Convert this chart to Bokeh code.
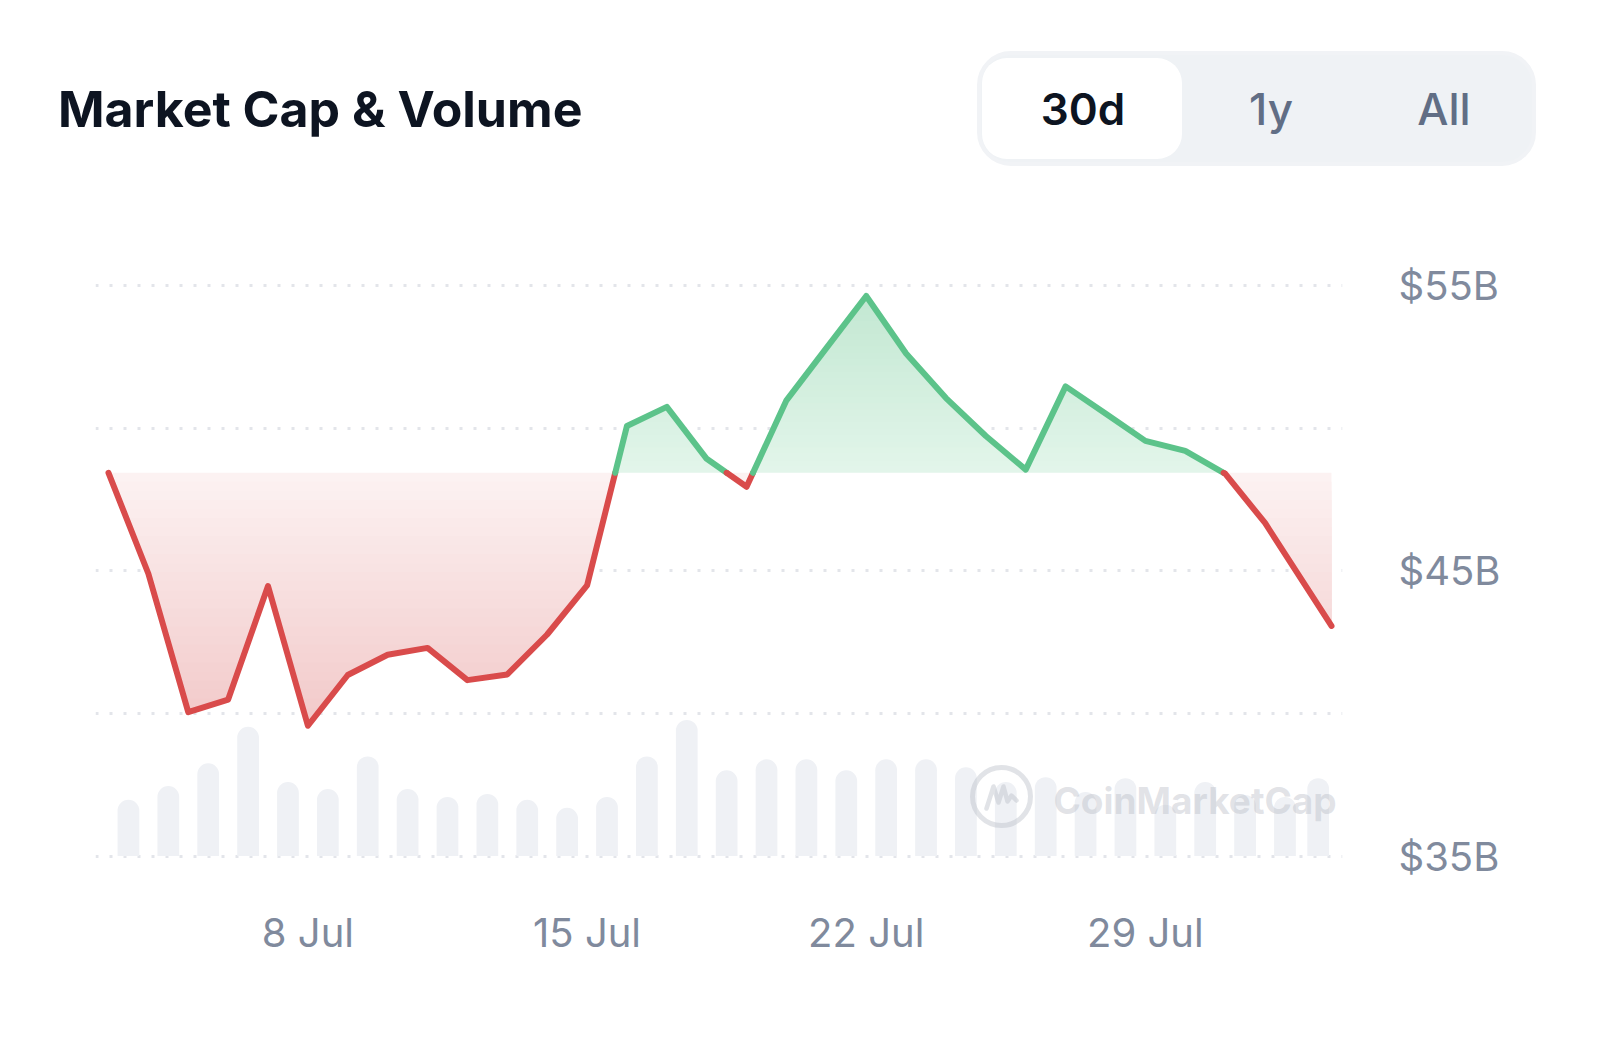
import numpy as np
import pandas as pd
from bokeh.plotting import figure
from bokeh.models import Range1d, FixedTicker, DatetimeTickFormatter, PrintfTickFormatter, Div
from bokeh.layouts import column
from bokeh.core.properties import value
from bokeh.embed import file_html
from bokeh.resources import INLINE

# ---------------- data ----------------
dates = ["2024-07-03 00:00", "2024-07-04 00:00", "2024-07-05 00:00", "2024-07-06 00:00",
         "2024-07-07 00:00", "2024-07-08 00:00", "2024-07-09 00:00", "2024-07-10 00:00",
         "2024-07-11 00:00", "2024-07-12 00:00", "2024-07-13 00:00", "2024-07-14 00:00",
         "2024-07-15 00:00", "2024-07-16 00:00", "2024-07-17 00:00", "2024-07-18 00:00",
         "2024-07-19 00:00", "2024-07-20 00:00", "2024-07-21 00:00", "2024-07-22 00:00",
         "2024-07-23 00:00", "2024-07-24 00:00", "2024-07-25 00:00", "2024-07-26 00:00",
         "2024-07-27 00:00", "2024-07-28 00:00", "2024-07-29 00:00", "2024-07-30 00:00",
         "2024-07-31 00:00", "2024-08-01 00:00", "2024-08-02 16:00"]
market_cap_b = [48.44, 44.90, 40.05, 40.49, 44.47, 39.57, 41.35, 42.06, 42.30, 41.17,
                41.37, 42.77, 44.49, 50.08, 50.75, 48.93, 47.95, 50.98, 52.81, 54.64,
                52.62, 51.06, 49.73, 48.55, 51.47, 50.52, 49.56, 49.21, 48.41, 46.68,
                43.07]
volume_dates = ["2024-07-03 12:00", "2024-07-04 12:00", "2024-07-05 12:00", "2024-07-06 12:00",
                "2024-07-07 12:00", "2024-07-08 12:00", "2024-07-09 12:00", "2024-07-10 12:00",
                "2024-07-11 12:00", "2024-07-12 12:00", "2024-07-13 12:00", "2024-07-14 12:00",
                "2024-07-15 12:00", "2024-07-16 12:00", "2024-07-17 12:00", "2024-07-18 12:00",
                "2024-07-19 12:00", "2024-07-20 12:00", "2024-07-21 12:00", "2024-07-22 12:00",
                "2024-07-23 12:00", "2024-07-24 12:00", "2024-07-25 12:00", "2024-07-26 12:00",
                "2024-07-27 12:00", "2024-07-28 12:00", "2024-07-29 12:00", "2024-07-30 12:00",
                "2024-07-31 12:00", "2024-08-01 12:00", "2024-08-02 08:00"]
volume_b = [0.57, 0.71, 0.94, 1.31, 0.75, 0.68, 1.01, 0.68, 0.60, 0.63,
            0.57, 0.49, 0.60, 1.01, 1.38, 0.87, 0.98, 0.98, 0.87, 0.98,
            0.98, 0.90, 0.75, 0.80, 0.65, 0.79, 0.52, 0.75, 0.62, 0.60,
            0.79]
price_ticks_b = [35, 45, 55]
grid_levels_b = [35, 40, 45, 50, 55]
date_ticks = ["2024-07-08 00:00", "2024-07-15 00:00", "2024-07-22 00:00", "2024-07-29 00:00"]
title_text = "Market Cap &amp; Volume"
range_buttons = ["30d", "1y", "All"]
watermark_text = "CoinMarketCap"

# ---------------- layout constants (page pixels) ----------------
W = 1581
HEADER_H = 190
CHART_H = 830
CHART_TOP = HEADER_H
FRAME_L, FRAME_R = 95, 1342
FRAME_T, FRAME_B = 220, 880
X0_PX = 108.0                        # page x of first date
PX_PER_DAY = 39.88
Y_TOP_TICK_PX = 285.2                # page y of top tick
PX_PER_B = 28.52
VOL_PX_PER_UNIT = 98.7
DAY_MS = 86400000.0
FONT = "Inter"

x_dt = pd.to_datetime(dates, format="%Y-%m-%d %H:%M")
x_ms = x_dt.asi8 / 1e6
vals = np.array(market_cap_b, dtype=float)
vol_x = pd.to_datetime(volume_dates, format="%Y-%m-%d %H:%M")
tick_ms = list(pd.to_datetime(date_ticks, format="%Y-%m-%d %H:%M").asi8 / 1e6)
top_tick = max(price_ticks_b)
bottom_tick = min(price_ticks_b)


def px_to_x(px):
    return x_ms[0] + (px - X0_PX) / PX_PER_DAY * DAY_MS


def py_to_y(py):
    return top_tick - (py - Y_TOP_TICK_PX) / PX_PER_B


def mix(c1, c2, f):
    a = np.array([int(c1[i:i + 2], 16) for i in (1, 3, 5)], dtype=float)
    b = np.array([int(c2[i:i + 2], 16) for i in (1, 3, 5)], dtype=float)
    c = a + (b - a) * f
    return "#%02x%02x%02x" % tuple(int(round(v)) for v in c)


# ---------------- header (HTML) ----------------
btn_specs = [(1083, range_buttons[0], "#0d1421", 600),
             (1271, range_buttons[1], "#616e85", 500),
             (1444, range_buttons[2], "#616e85", 500)]
btn_html = "".join(
    f'<div style="position:absolute;left:{cx - 90}px;top:87px;width:180px;text-align:center;'
    f'font-size:44px;line-height:44px;font-weight:{fw};color:{col};white-space:nowrap;">{t}</div>'
    for cx, t, col, fw in btn_specs)
header_html = (
    f'<div style="position:relative;width:{W}px;height:{HEADER_H}px;font-family:Inter,sans-serif;'
    f'background:#ffffff;overflow:hidden;">'
    f'<div style="position:absolute;left:58px;top:84px;font-size:50px;line-height:50px;'
    f'font-weight:700;color:#0d1421;white-space:nowrap;">{title_text}</div>'
    f'<div style="position:absolute;left:977px;top:51px;width:559px;height:115px;'
    f'border-radius:34px;background:#eff2f5;box-sizing:border-box;border:4px solid #f1f3f6;"></div>'
    f'<div style="position:absolute;left:982px;top:58px;width:200px;height:101px;'
    f'border-radius:25px;background:#ffffff;"></div>'
    f'{btn_html}</div>')
header = Div(text=header_html, width=W, height=HEADER_H, margin=(0, 0, 0, 0))

# ---------------- chart ----------------
x_range = Range1d(px_to_x(FRAME_L), px_to_x(FRAME_R))
y_range = Range1d(py_to_y(FRAME_B), py_to_y(FRAME_T))
y_bottom_tick_px = Y_TOP_TICK_PX + (top_tick - bottom_tick) * PX_PER_B

p = figure(width=W, height=CHART_H, x_axis_type="datetime", y_axis_location="right",
           x_range=x_range, y_range=y_range, toolbar_location=None, output_backend="svg",
           title=None, margin=(0, 0, 0, 0),
           min_border_left=FRAME_L, min_border_right=W - FRAME_R,
           min_border_top=FRAME_T - CHART_TOP,
           min_border_bottom=CHART_H - (FRAME_B - CHART_TOP))
p.outline_line_color = None
p.background_fill_color = "white"
p.border_fill_color = "white"
p.extra_y_ranges = {"vol": Range1d(-(FRAME_B - y_bottom_tick_px) / VOL_PX_PER_UNIT,
                                   (y_bottom_tick_px - FRAME_T) / VOL_PX_PER_UNIT)}

# grid
p.xgrid.visible = False
p.ygrid.ticker = FixedTicker(ticks=grid_levels_b)
p.ygrid.grid_line_color = "#e3e5ea"
p.ygrid.grid_line_width = 3
p.ygrid.grid_line_dash = "3 11"

# axes
p.yaxis.ticker = FixedTicker(ticks=price_ticks_b)
p.yaxis.formatter = PrintfTickFormatter(format="$%dB")
p.xaxis.ticker = FixedTicker(ticks=tick_ms)
p.xaxis.formatter = DatetimeTickFormatter(days="%-d %b", months="%-d %b", hours="%-d %b",
                                          hourmin="%-d %b", years="%-d %b")
for ax in (p.xaxis[0], p.yaxis[0]):
    ax.axis_line_color = None
    ax.major_tick_line_color = None
    ax.minor_tick_line_color = None
    ax.major_tick_out = 0
    ax.major_tick_in = 0
    ax.minor_tick_out = 0
    ax.major_label_text_font = FONT
    ax.major_label_text_font_size = "40px"
    ax.major_label_text_color = "#808a9d"
p.yaxis.major_label_standoff = 56
p.xaxis.major_label_standoff = 27

# area fills (gradient approximated by stacked bands)
base = vals[0]
xd = np.union1d(np.linspace(x_ms[0], x_ms[-1], 1600), x_ms)
vd = np.interp(xd, x_ms, vals)
n_bands = 28
vmin, vmax = vals.min(), vals.max()
for i in range(n_bands):
    f = i / (n_bands - 1)
    L = base - (base - vmin) * i / n_bands
    p.varea(x=xd, y1=np.minimum(vd, L), y2=np.full_like(xd, L),
            fill_color=mix("#fcf2f2", "#f2c9c9", f), fill_alpha=1.0)
for i in range(n_bands):
    f = i / (n_bands - 1)
    L = base + (vmax - base) * i / n_bands
    p.varea(x=xd, y1=np.full_like(xd, L), y2=np.maximum(vd, L),
            fill_color=mix("#e2f5ea", "#c3e8d2", f), fill_alpha=1.0)

# volume bars
p.vbar(x=vol_x, top=volume_b, bottom=0, width=0.545 * DAY_MS, y_range_name="vol",
       fill_color="#eff1f5", line_color=None, border_radius=(11, 11, 0, 0))

# watermark
wm_color = "#b8bcc6"
LOGO_X, LOGO_Y = 1001, 796
p.circle(x=[px_to_x(LOGO_X)], y=[py_to_y(LOGO_Y)], radius=29, radius_units="screen",
         fill_color=None, line_color=wm_color, line_width=5, line_alpha=0.42)
wave = [(-15, 12), (-8, -10), (-3, 6), (2, -10), (6, 5), (10, -1), (15, 4)]
p.line(x=[px_to_x(LOGO_X + dx) for dx, dy in wave], y=[py_to_y(LOGO_Y + dy) for dx, dy in wave],
       line_color=wm_color, line_width=4.5, line_alpha=0.42, line_join="round", line_cap="round")
p.text(x=[px_to_x(1053)], y=[py_to_y(800)], text=[watermark_text], text_font=value(FONT),
       text_font_size="37px", text_font_style="bold", text_color=wm_color, text_alpha=0.42,
       text_baseline="middle", text_align="left")

# line split into above (green) / below (red) baseline
pieces_x, pieces_y, pieces_c = [], [], []
cur_x, cur_y, cur_up = [x_ms[0]], [vals[0]], None
for i in range(len(vals) - 1):
    x0, v0, x1, v1 = x_ms[i], vals[i], x_ms[i + 1], vals[i + 1]
    if (v0 - base) * (v1 - base) < 0:
        xc = x0 + (base - v0) / (v1 - v0) * (x1 - x0)
        segs = [(x0, v0, xc, base), (xc, base, x1, v1)]
    else:
        segs = [(x0, v0, x1, v1)]
    for a, av, b, bv in segs:
        up = (av + bv) / 2 >= base
        if cur_up is None:
            cur_up = up
        if up != cur_up:
            pieces_x.append(cur_x); pieces_y.append(cur_y)
            pieces_c.append("#5cc38a" if cur_up else "#d94b4b")
            cur_x, cur_y, cur_up = [a], [av], up
        cur_x.append(b); cur_y.append(bv)
pieces_x.append(cur_x); pieces_y.append(cur_y)
pieces_c.append("#5cc38a" if cur_up else "#d94b4b")
p.multi_line(xs=pieces_x, ys=pieces_y, line_color=pieces_c, line_width=6,
             line_join="round", line_cap="round")

layout = column(header, p, spacing=0)
open("out.html", "w").write(file_html(layout, INLINE))
